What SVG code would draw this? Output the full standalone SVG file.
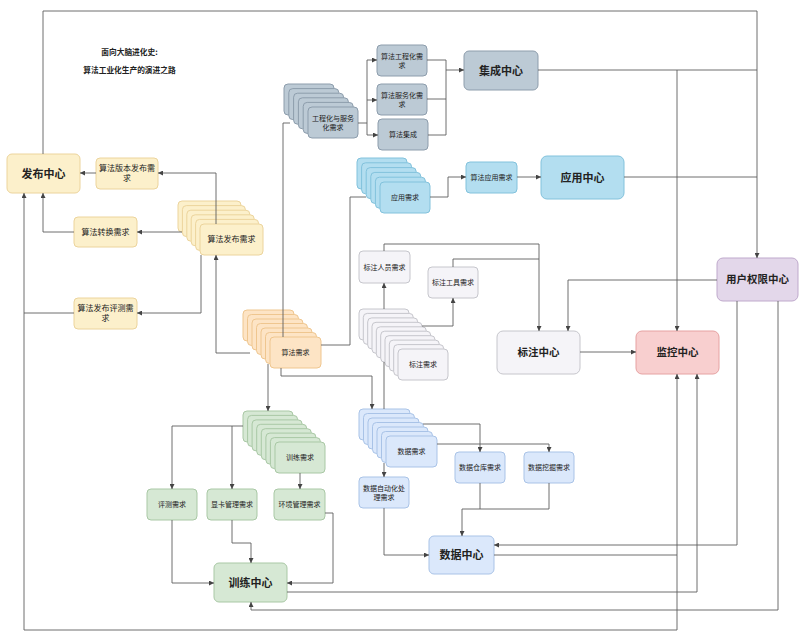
<svg xmlns="http://www.w3.org/2000/svg" width="803" height="639" viewBox="0 0 803 639">
<style>
text{font-family:"Noto Sans CJK SC","Noto Sans",sans-serif;fill:#222;text-anchor:middle}
.s{font-size:7px}
.m{font-size:8px}
.b{font-size:11px;font-weight:bold}
.t{font-size:7.7px;font-weight:bold}
.yel{fill:#fcf0cb;stroke:#ecd49c;stroke-width:1}
.ora{fill:#fde4c5;stroke:#efc68f;stroke-width:1}
.gb{fill:#bccad5;stroke:#8d9dac;stroke-width:1}
.lb{fill:#b3def0;stroke:#82c2dc;stroke-width:1}
.pu{fill:#e3d7ea;stroke:#bfa9cc;stroke-width:1}
.gr{fill:#f5f4f8;stroke:#c6c6cc;stroke-width:1}
.rd{fill:#f8cfcf;stroke:#e6a2a2;stroke-width:1}
.gn{fill:#d6e8d4;stroke:#a9c8a5;stroke-width:1}
.bl{fill:#dbe8fb;stroke:#a9c3e7;stroke-width:1}
.c path{fill:none;stroke:#5e5e5e;stroke-width:0.9}
.a{marker-end:url(#ar)}
.aa{marker-start:url(#ar);marker-end:url(#ar)}
</style>
<defs>
<marker id="ar" viewBox="0 0 6 6" refX="6" refY="3" markerWidth="5" markerHeight="5" markerUnits="userSpaceOnUse" orient="auto-start-reverse">
<path d="M0,0 L6,3 L0,6 z" fill="#444"/>
</marker>
</defs>
<rect x="0" y="0" width="803" height="639" fill="#ffffff"/>

<g id="title">
<text class="t" x="129.5" y="54.7">面向大脑进化史:</text>
<text class="t" x="129.5" y="72.7">算法工业化生产的演进之路</text>
</g>

<g id="fabu-center"><rect class="yel" x="7" y="154" width="73" height="39" rx="5"/><text class="b" x="43.5" y="177.5">发布中心</text></g>
<g id="banben"><rect class="yel" x="96" y="158" width="62" height="31" rx="4"/><text class="m" x="127" y="171">算法版本发布需</text><text class="m" x="127" y="181">求</text></g>
<g id="zhuanhuan"><rect class="yel" x="74" y="217" width="63" height="30" rx="4"/><text class="m" x="105.5" y="234.8">算法转换需求</text></g>
<g id="pingce-fabu"><rect class="yel" x="74" y="298" width="63" height="31" rx="4"/><text class="m" x="105.5" y="310.8">算法发布评测需</text><text class="m" x="105.5" y="320.8">求</text></g>
<g id="fabu-xuqiu">
<rect class="yel" x="178" y="201" width="63" height="31" rx="4"/>
<rect class="yel" x="182.4" y="205.6" width="63" height="31" rx="4"/>
<rect class="yel" x="186.8" y="210.2" width="63" height="31" rx="4"/>
<rect class="yel" x="191.2" y="214.8" width="63" height="31" rx="4"/>
<rect class="yel" x="195.6" y="219.4" width="63" height="31" rx="4"/>
<rect class="yel" x="200" y="224" width="63" height="31" rx="4"/>
<text class="m" x="231.5" y="242.3">算法发布需求</text>
</g>

<g id="suanfa-xuqiu">
<rect class="ora" x="243" y="310" width="51" height="31" rx="4"/>
<rect class="ora" x="247.5" y="314.5" width="51" height="31" rx="4"/>
<rect class="ora" x="252" y="319" width="51" height="31" rx="4"/>
<rect class="ora" x="256.5" y="323.5" width="51" height="31" rx="4"/>
<rect class="ora" x="261" y="328" width="51" height="31" rx="4"/>
<rect class="ora" x="265.5" y="332.5" width="51" height="31" rx="4"/>
<rect class="ora" x="270" y="337" width="51" height="31" rx="4"/>
<text class="s" x="295.5" y="355">算法需求</text>
</g>

<g id="gongcheng-xuqiu">
<rect class="gb" x="284" y="84" width="50" height="31" rx="4"/>
<rect class="gb" x="288.8" y="88.6" width="50" height="31" rx="4"/>
<rect class="gb" x="293.6" y="93.2" width="50" height="31" rx="4"/>
<rect class="gb" x="298.4" y="97.8" width="50" height="31" rx="4"/>
<rect class="gb" x="303.2" y="102.4" width="50" height="31" rx="4"/>
<rect class="gb" x="308" y="107" width="50" height="31" rx="4"/>
<text class="s" x="333" y="121.4">工程化与服务</text>
<text class="s" x="333" y="130.2">化需求</text>
</g>
<g id="gongchenghua"><rect class="gb" x="377" y="45" width="50" height="31" rx="4"/><text class="s" x="402" y="58.7">算法工程化需</text><text class="s" x="402" y="67.5">求</text></g>
<g id="fuwuhua"><rect class="gb" x="377" y="84" width="50" height="31" rx="4"/><text class="s" x="402" y="98">算法服务化需</text><text class="s" x="402" y="106.8">求</text></g>
<g id="jicheng"><rect class="gb" x="378" y="119" width="50" height="31" rx="4"/><text class="s" x="403" y="137">算法集成</text></g>
<g id="jicheng-center"><rect class="gb" x="464" y="51" width="74" height="39" rx="5"/><text class="b" x="501" y="74.5">集成中心</text></g>

<g id="yingyong-xuqiu">
<rect class="lb" x="357" y="158" width="50" height="31" rx="4"/>
<rect class="lb" x="361.6" y="162.8" width="50" height="31" rx="4"/>
<rect class="lb" x="366.2" y="167.6" width="50" height="31" rx="4"/>
<rect class="lb" x="370.8" y="172.4" width="50" height="31" rx="4"/>
<rect class="lb" x="375.4" y="177.2" width="50" height="31" rx="4"/>
<rect class="lb" x="380" y="182" width="50" height="31" rx="4"/>
<text class="s" x="405" y="200">应用需求</text>
</g>
<g id="suanfa-yingyong"><rect class="lb" x="466" y="162" width="51" height="31" rx="4"/><text class="s" x="491.5" y="180">算法应用需求</text></g>
<g id="yingyong-center"><rect class="lb" x="541" y="156" width="83" height="43" rx="6"/><text class="b" x="582.5" y="181.5">应用中心</text></g>

<g id="quanxian-center"><rect class="pu" x="717" y="258" width="81" height="43" rx="6"/><text class="b" x="757.5" y="283.3" style="font-size:10.5px">用户权限中心</text></g>

<g id="biaozhu-renyuan"><rect class="gr" x="359" y="251" width="51" height="32" rx="4"/><text class="s" x="384.5" y="269.5">标注人员需求</text></g>
<g id="biaozhu-gongju"><rect class="gr" x="428" y="267" width="50" height="31" rx="4"/><text class="s" x="453" y="285">标注工具需求</text></g>
<g id="biaozhu-xuqiu">
<rect class="gr" x="359" y="309" width="50" height="31" rx="4"/>
<rect class="gr" x="363.3" y="313.4" width="50" height="31" rx="4"/>
<rect class="gr" x="367.7" y="317.9" width="50" height="31" rx="4"/>
<rect class="gr" x="372" y="322.3" width="50" height="31" rx="4"/>
<rect class="gr" x="376.3" y="326.8" width="50" height="31" rx="4"/>
<rect class="gr" x="380.7" y="331.2" width="50" height="31" rx="4"/>
<rect class="gr" x="385" y="335.7" width="50" height="31" rx="4"/>
<rect class="gr" x="389.3" y="340.1" width="50" height="31" rx="4"/>
<rect class="gr" x="393.7" y="344.6" width="50" height="31" rx="4"/>
<rect class="gr" x="398" y="349" width="50" height="31" rx="4"/>
<text class="s" x="423" y="367">标注需求</text>
</g>
<g id="biaozhu-center"><rect class="gr" x="497" y="331" width="83" height="43" rx="6"/><text class="b" x="538.5" y="356.3" style="font-size:10.5px">标注中心</text></g>
<g id="jiankong-center"><rect class="rd" x="636" y="331" width="83" height="43" rx="6"/><text class="b" x="677.5" y="356.3" style="font-size:10.5px">监控中心</text></g>

<g id="xunlian-xuqiu">
<rect class="gn" x="243" y="411" width="50" height="31" rx="4"/>
<rect class="gn" x="247.6" y="415.4" width="50" height="31" rx="4"/>
<rect class="gn" x="252.1" y="419.9" width="50" height="31" rx="4"/>
<rect class="gn" x="256.7" y="424.3" width="50" height="31" rx="4"/>
<rect class="gn" x="261.3" y="428.7" width="50" height="31" rx="4"/>
<rect class="gn" x="265.9" y="433.1" width="50" height="31" rx="4"/>
<rect class="gn" x="270.4" y="437.6" width="50" height="31" rx="4"/>
<rect class="gn" x="275" y="442" width="50" height="31" rx="4"/>
<text class="s" x="300" y="460">训练需求</text>
</g>
<g id="pingce"><rect class="gn" x="147" y="489" width="50" height="31" rx="4"/><text class="s" x="172" y="507">评测需求</text></g>
<g id="xianka"><rect class="gn" x="207" y="489" width="50" height="31" rx="4"/><text class="s" x="232" y="507">显卡管理需求</text></g>
<g id="huanjing"><rect class="gn" x="274" y="489" width="51" height="31" rx="4"/><text class="s" x="299.5" y="507">环境管理需求</text></g>
<g id="xunlian-center"><rect class="gn" x="214" y="563" width="73" height="39" rx="5"/><text class="b" x="250.5" y="586.5">训练中心</text></g>

<g id="shuju-xuqiu">
<rect class="bl" x="359" y="409" width="51" height="31" rx="4"/>
<rect class="bl" x="363.5" y="413.5" width="51" height="31" rx="4"/>
<rect class="bl" x="368" y="418" width="51" height="31" rx="4"/>
<rect class="bl" x="372.5" y="422.5" width="51" height="31" rx="4"/>
<rect class="bl" x="377" y="427" width="51" height="31" rx="4"/>
<rect class="bl" x="381.5" y="431.5" width="51" height="31" rx="4"/>
<rect class="bl" x="386" y="436" width="51" height="31" rx="4"/>
<text class="s" x="411.5" y="454">数据需求</text>
</g>
<g id="zidonghua"><rect class="bl" x="359" y="477" width="50" height="31" rx="4"/><text class="s" x="384" y="491">数据自动化处</text><text class="s" x="384" y="499.8">理需求</text></g>
<g id="cangku"><rect class="bl" x="455" y="452" width="50" height="31" rx="4"/><text class="s" x="480" y="470">数据仓库需求</text></g>
<g id="wajue"><rect class="bl" x="524" y="452" width="50" height="31" rx="4"/><text class="s" x="549" y="470">数据挖掘需求</text></g>
<g id="shuju-center"><rect class="bl" x="429" y="536" width="65" height="38" rx="5"/><text class="b" x="461.5" y="559">数据中心</text></g>

<g id="connectors" class="c">
<path d="M43,154 V11 H757 V258" class="a"/>
<path d="M538,70 H757"/>
<path d="M677,70 V331" class="a"/>
<path d="M624,177 H757"/>
<path d="M717,280 H568 V331" class="a"/>
<path d="M580,352 H636" class="a"/>
<path d="M737,301 V545 H494" class="a"/>
<path d="M778,301 V610 H251 V602" class="a"/>
<path d="M24,193 V630 H677 V374" class="aa"/>
<path d="M287,592 H697 V374" class="a"/>
<path d="M494,555 H677"/>
<path d="M74,232 H43 V193" class="a"/>
<path d="M74,313 H24"/>
<path d="M96,173 H80" class="a"/>
<path d="M216,224 V173 H158" class="a"/>
<path d="M182,232 H137" class="a"/>
<path d="M201,255 V313 H137" class="a"/>
<path d="M250,353 H216 V255" class="a"/>
<path d="M283,337 V123 H290"/>
<path d="M321,345 H350 V197 H366"/>
<path d="M268,364 V411" class="a"/>
<path d="M281,368 V376 H372 V409" class="a"/>
<path d="M358,123 H367 V60 H377" class="a"/>
<path d="M367,100 H377" class="a"/>
<path d="M367,123 V135 H378" class="a"/>
<path d="M427,60 H446 V70 H464" class="a"/>
<path d="M427,99 H446 V70"/>
<path d="M428,135 H446 V99"/>
<path d="M430,197 H448 V177 H466" class="a"/>
<path d="M517,177 H541" class="a"/>
<path d="M384,309 V283" class="a"/>
<path d="M384,409 V362"/>
<path d="M384,463 V477" class="a"/>
<path d="M422,326 H453 V298" class="a"/>
<path d="M384,251 V244 H539 V331" class="a"/>
<path d="M453,267 V259 H539"/>
<path d="M423,424 H480 V452" class="a"/>
<path d="M437,444 H549 V452" class="a"/>
<path d="M480,483 V509 H462 V536" class="a"/>
<path d="M549,483 V509 H480"/>
<path d="M384,508 V555 H429" class="a"/>
<path d="M243,426 H172 V489" class="a"/>
<path d="M232,426 V489" class="a"/>
<path d="M300,473 V489" class="a"/>
<path d="M172,520 V583 H214" class="a"/>
<path d="M232,520 V543 H251 V563" class="a"/>
<path d="M325,513 H333 V583 H287" class="a"/>
</g>
</svg>
